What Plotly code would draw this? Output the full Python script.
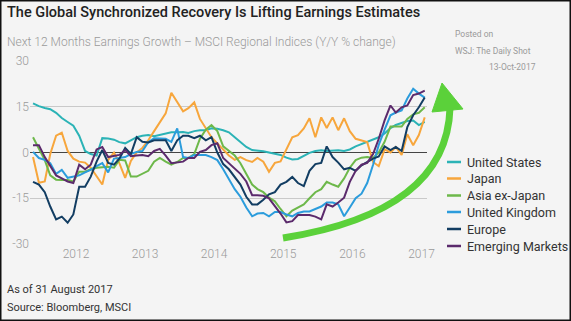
import pandas as pd
import plotly.graph_objects as go

dates = pd.date_range("2011-12-01", "2017-08-01", freq="MS")

united_states = [16.1, 15.2, 14.6, 14.2, 13.0, 11.3, 10.0, 8.8, 5.5, 0.5, -0.5, -1.0, 4.7, 4.6, 4.2, 3.4, 3.0, 4.0, 5.0, 5.5,
                 5.7, 5.3, 5.8, 6.3, 6.6, 6.6, 6.7, 6.4, 7.0, 7.3, 7.3, 7.9, 7.8, 7.3, 6.6, 5.0, 3.5, 1.8, 0.8, 0.7,
                 0.4, 0.0, -0.3, -0.8, -1.7, -2.3, -2.1, -1.0, -0.1, 0.5, 0.7, 0.5, 0.7, 0.7, 0.5, 1.0, 2.0, 2.8, 3.4, 4.4,
                 5.0, 6.2, 8.0, 9.0, 9.6, 10.3, 10.5, 9.0, 10.0]
japan = [-1.5, -9.9, -9.5, -0.5, 5.5, 6.5, 0.5, -2.0, -3.0, -3.3, -5.0, -8.0, -10.5, -2.4, 0.0, -3.5, -8.3, -2.8, 0.0, 1.5,
         4.0, 7.0, 10.0, 12.8, 19.6, 16.5, 13.5, 14.5, 16.4, 11.0, 7.9, 5.0, 3.0, 0.8, -1.0, -2.4, -1.5, -2.5, -3.1, -1.8,
         -3.0, -6.3, -3.4, -2.9, 1.0, 5.0, 5.7, 7.9, 11.2, 5.0, 11.5, 8.0, 11.5, 7.3, 11.2, 7.0, 4.5, 4.0, 3.4, -3.1,
         -4.5, 1.0, 0.0, 1.8, -0.8, 6.0, 2.4, 5.7, 11.5]
asia_ex_japan = [5.0, 1.5, -2.5, -7.5, -8.9, -9.0, -9.0, -9.5, -6.3, -6.3, -5.5, -5.0, -4.8, -4.7, -5.0, -2.4, -2.6, -7.9, -7.9, -7.0,
                 -6.0, -3.0, -1.8, -3.0, -4.0, -3.1, -1.8, -1.8, -0.5, 4.5, 7.5, 9.0, 7.0, 2.0, 0.5, -1.0, -3.5, -7.0, -10.5, -12.0,
                 -13.0, -14.8, -16.0, -18.5, -20.9, -19.0, -18.0, -17.0, -15.0, -13.0, -12.0, -9.6, -10.5, -11.2, -8.5, -5.0, -2.5, -1.7, -1.5, -1.8,
                 0.0, 3.5, 8.5, 8.5, 8.5, 11.0, 12.5, 13.0, 14.8]
united_kingdom = [0.2, -1.8, -2.4, -3.5, -7.0, -5.7, -8.3, -8.0, -7.5, -6.5, -5.7, -4.5, -3.5, -6.5, -2.0, -1.8, -1.5, -0.5, 0.2, 0.5,
                  3.4, 4.7, 4.7, 4.5, 3.5, 7.9, -1.5, -1.8, -0.8, -0.8, -0.8, -1.5, -2.5, -5.5, -8.5, -12.0, -14.5, -18.0, -20.9, -20.0,
                  -19.8, -20.9, -19.5, -19.5, -20.3, -20.9, -19.8, -19.3, -19.3, -18.5, -17.7, -16.4, -16.4, -17.0, -20.9, -18.0, -15.0, -13.5, -10.0, -4.0,
                  2.5, 7.5, 12.2, 13.1, 13.8, 17.7, 20.9, 19.3, 18.0]
europe = [-9.6, -10.5, -13.0, -17.7, -21.9, -21.0, -23.0, -20.3, -11.2, -11.2, -7.9, -3.0, 0.8, -3.4, -4.0, -2.0, 1.5, -0.5, 5.0, 3.5,
          3.3, 4.0, 4.0, 4.0, 0.5, 4.0, 5.5, 5.5, 4.7, 5.5, 4.0, 5.0, 0.0, -3.8, -5.5, -8.0, -10.5, -14.5, -17.0, -17.0,
          -15.5, -13.7, -13.0, -10.5, -9.6, -8.0, -10.0, -11.0, -6.0, -3.8, -3.4, 2.0, -1.5, -3.3, -5.5, -5.0, -6.0, -4.2, -3.0, -2.0,
          -1.3, 2.0, 0.8, 1.8, 0.5, 8.3, 12.2, 14.8, 18.0]
emerging_markets = [2.4, 2.4, -1.5, -4.5, -7.5, -8.5, -9.5, -10.0, -4.0, -5.5, -4.0, 1.0, 1.8, -1.5, -1.0, -0.8, 0.8, -1.2, -1.0, -0.8,
                    -1.2, 0.5, 1.2, -1.0, -3.5, -3.2, -3.0, -1.8, -1.8, 0.2, 0.8, 2.4, 3.0, -1.8, -3.5, -5.5, -7.0, -9.5, -14.0, -14.0,
                    -14.2, -15.0, -17.5, -20.0, -22.9, -22.5, -20.5, -20.5, -20.5, -21.0, -21.9, -17.0, -17.7, -16.4, -14.8, -9.6, -6.0, -4.0, -3.4, -0.5,
                    4.5, 10.5, 15.4, 13.1, 14.8, 15.4, 18.8, 19.3, 20.3]

series_names = ["United States", "Japan", "Asia ex-Japan", "United Kingdom", "Europe", "Emerging Markets"]
series_values = [united_states, japan, asia_ex_japan, united_kingdom, europe, emerging_markets]
series_colors = ["#2bb3b6", "#f7a63c", "#6db84a", "#2b9cdc", "#123d62", "#5b2a6c"]

year_labels = ["2012", "2013", "2014", "2015", "2016", "2017"]
year_ticks = [f"{y}-07-15" for y in year_labels]
y_ticks = [-30, -15, 0, 15, 30]

W, H = 571, 321
L, R, T, B = 30, 427, 60, 245


def xp(px):
    return (px - L) / (R - L)


def yp(py):
    return (B - py) / (B - T)


fig = go.Figure()
for name, vals, col in zip(series_names, series_values, series_colors):
    fig.add_trace(go.Scatter(x=dates, y=vals, mode="lines", name=name,
                             line=dict(color=col, width=2), showlegend=False))

tick_font = dict(size=12, color="#9a9a9a", family="Roboto", weight=300)
fig.update_layout(
    width=W, height=H,
    margin=dict(l=L, r=W - R, t=T, b=H - B),
    paper_bgcolor="#f4f4f4", plot_bgcolor="#f4f4f4",
    font=dict(family="Roboto, Liberation Sans, sans-serif"),
    xaxis=dict(range=["2011-11-15", "2017-08-13"], tickvals=year_ticks, ticktext=year_labels,
               showgrid=False, zeroline=False, showline=False, ticks="", tickfont=tick_font),
    yaxis=dict(range=[-30.3, 30.3], tickvals=y_ticks, ticktext=[str(v) for v in y_ticks],
               showgrid=True, gridcolor="#c9c9c9", gridwidth=1,
               zeroline=True, zerolinecolor="#444444", zerolinewidth=1,
               showline=False, ticks="", tickfont=tick_font),
)

annotations = [
    dict(x=xp(5), y=yp(13), text="The Global Synchronized Recovery Is Lifting Earnings Estimates",
         font=dict(size=14.5, color="#222222", family="Roboto", weight=500)),
    dict(x=xp(5), y=yp(42), text="Next 12 Months Earnings Growth \u2013 MSCI Regional Indices (Y/Y % change)",
         font=dict(size=12, color="#9a9a9a", family="Roboto", weight=300)),
    dict(x=xp(453), y=yp(34), text="Posted on", font=dict(size=8.5, color="#9a9a9a")),
    dict(x=xp(453), y=yp(51), text="WSJ: The Daily Shot", font=dict(size=8.5, color="#9a9a9a")),
    dict(x=xp(487), y=yp(67), text="13-Oct-2017", font=dict(size=8.5, color="#9a9a9a")),
    dict(x=xp(5), y=yp(289), text="As of 31 August 2017", font=dict(size=11, color="#333333")),
    dict(x=xp(5), y=yp(307), text="Source: Bloomberg, MSCI", font=dict(size=11, color="#333333")),
]

shapes = []
legend_rows = [162, 178.5, 195.5, 212, 229, 246]
for name, col, ry in zip(series_names, series_colors, legend_rows):
    shapes.append(dict(type="line", xref="paper", yref="paper", x0=xp(447), x1=xp(461), y0=yp(ry), y1=yp(ry),
                       line=dict(color=col, width=2.5)))
    annotations.append(dict(x=xp(465), y=yp(ry), text=name, font=dict(size=12.5, color="#333333")))

for a in annotations:
    a.update(xref="paper", yref="paper", xanchor="left", yanchor="middle", showarrow=False)
fig.update_layout(annotations=annotations)

# green arrow
arrow_green = "#5bd13a"
p0, c0, p1 = (283, 238), (447, 212), (450, 108)
path = f"M {xp(p0[0])},{yp(p0[1])} Q {xp(c0[0])},{yp(c0[1])} {xp(p1[0])},{yp(p1[1])}"
shapes.append(dict(type="path", xref="paper", yref="paper", path=path,
                   line=dict(color=arrow_green, width=7)))
tri = [(442, 83), (463, 109), (432, 112)]
tri_path = "M " + " L ".join(f"{xp(a)},{yp(b)}" for a, b in tri) + " Z"
shapes.append(dict(type="path", xref="paper", yref="paper", path=tri_path,
                   fillcolor=arrow_green, line=dict(color=arrow_green, width=1)))
# frame
shapes.append(dict(type="rect", xref="paper", yref="paper", x0=xp(0.75), x1=xp(W - 0.75), y0=yp(H - 0.75), y1=yp(0.75),
                   line=dict(color="#111111", width=1.5), layer="above"))
fig.update_layout(shapes=shapes)

fig.write_html("out.html")
